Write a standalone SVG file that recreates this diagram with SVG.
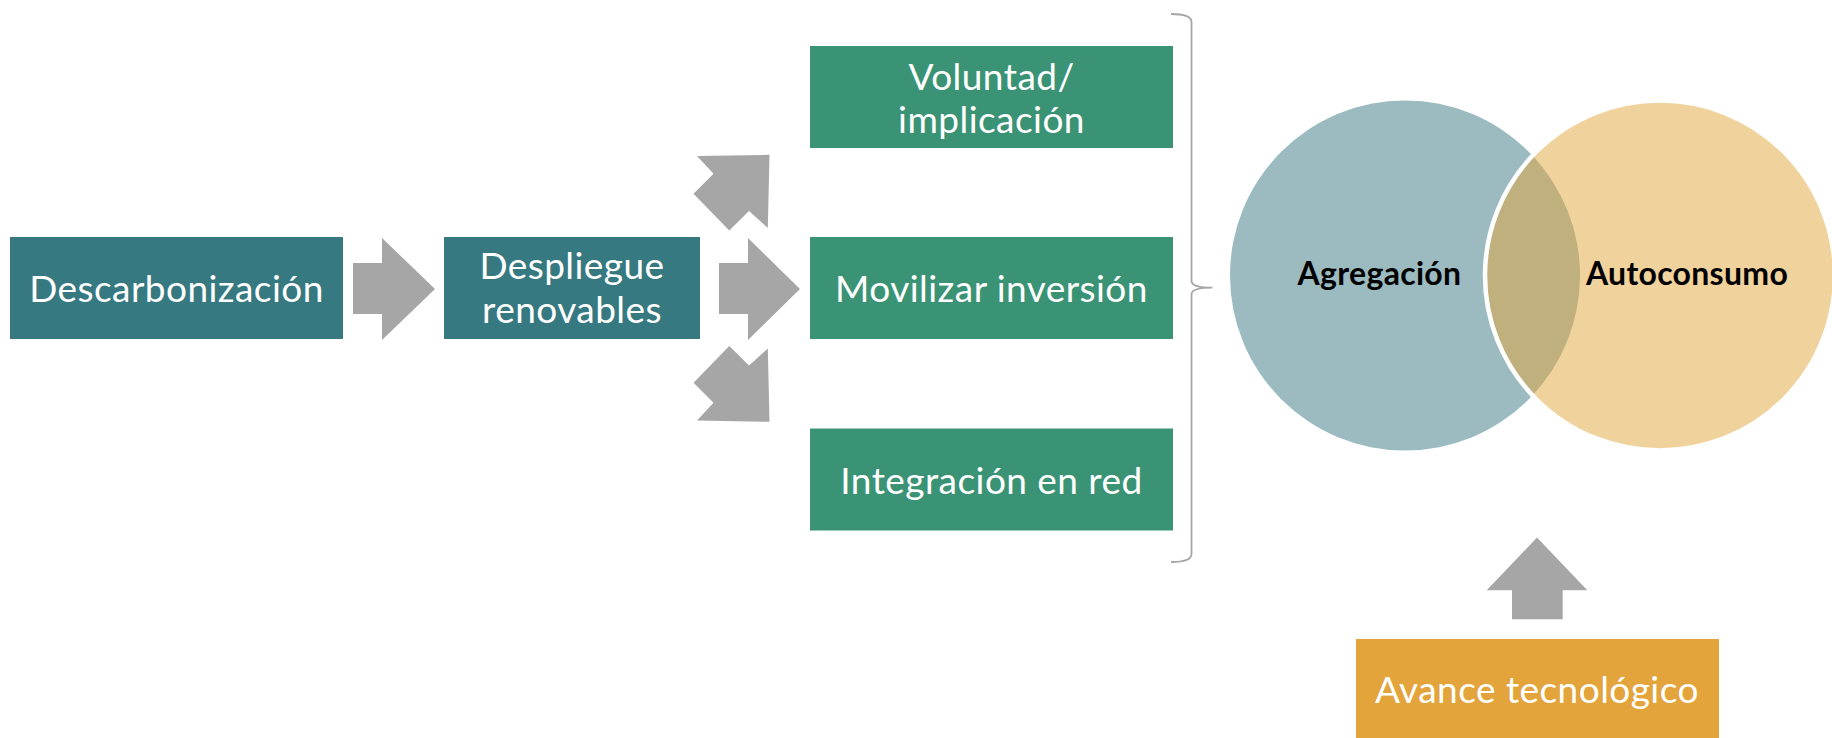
<svg xmlns="http://www.w3.org/2000/svg" width="1832" height="738" viewBox="0 0 1832 738">
  <style>
    .teal { fill: #367980; }
    .green { fill: #3a9375; }
    .gold { fill: #e2a43b; }
    .arrow { fill: #a6a6a6; }
    .lbl { font-family: Lato, "Open Sans", sans-serif; font-size: 37px; letter-spacing: 0.45px; fill: #ffffff; text-anchor: middle; }
    .venn { font-family: Lato, "Open Sans", sans-serif; font-size: 32px; letter-spacing: 0.3px; font-weight: bold; fill: #000000; text-anchor: middle; }
    .brace { fill: none; stroke: #a6a6a6; stroke-width: 1.8; }
  </style>
  <rect width="1832" height="738" fill="#ffffff"/>

  <g id="connectors">
    <polygon class="arrow" points="353,263 382,263 382,238 435,289 382,340 382,314 353,314"/>
    <polygon class="arrow" points="719,263 748,263 748,238 800,289 748,340 748,314 719,314"/>
    <polygon class="arrow" points="697,156 769.5,154.8 767.8,228 749,211 729.3,230.6 693.5,193.8 713.5,173.8"/>
    <polygon class="arrow" points="697,420.6 769.5,421.8 767.8,348.6 749,365.6 729.3,346 693.5,382.8 713.5,402.8"/>
    <polygon class="arrow" points="1537,537.5 1587.3,590.3 1562.7,590.3 1562.7,619.3 1512,619.3 1512,590.3 1486.7,590.3"/>
    <path id="brace" class="brace" d="M1171,14 Q1191.5,14 1191.5,22 L1191.5,281 Q1191.5,287.7 1212.3,287.7 Q1191.5,287.7 1191.5,294.5 L1191.5,554 Q1191.5,562 1171,562"/>
  </g>

  <g id="n-descarbonizacion">
    <rect class="teal" x="10" y="237" width="333" height="102"/>
    <text class="lbl" x="176.5" y="302">Descarbonización</text>
  </g>
  <g id="n-despliegue">
    <rect class="teal" x="444" y="237" width="256" height="102"/>
    <text class="lbl" x="572" y="279">Despliegue</text>
    <text class="lbl" x="572" y="323">renovables</text>
  </g>
  <g id="n-voluntad">
    <rect class="green" x="810" y="46" width="363" height="102"/>
    <text class="lbl" x="991.5" y="89.5">Voluntad/</text>
    <text class="lbl" x="991.5" y="133">implicación</text>
  </g>
  <g id="n-movilizar">
    <rect class="green" x="810" y="237" width="363" height="102"/>
    <text class="lbl" x="991.5" y="302">Movilizar inversión</text>
  </g>
  <g id="n-integracion">
    <rect class="green" x="810" y="428.5" width="363" height="102"/>
    <text class="lbl" x="991.5" y="494">Integración en red</text>
  </g>

  <g id="n-venn">
    <circle cx="1405" cy="275.5" r="175" fill="#9bbbc1"/>
    <circle cx="1660" cy="275.5" r="175" fill="#f0d29d"/>
    <path d="M1532.5,155.6 A175,175 0 0,1 1532.5,395.4 A175,175 0 0,1 1532.5,155.6 Z" fill="#c0b07e"/>
    <circle cx="1660" cy="275.5" r="175" fill="none" stroke="#ffffff" stroke-width="4.5"/>
    <text class="venn" x="1379.5" y="285">Agregación</text>
    <text class="venn" x="1687" y="285">Autoconsumo</text>
  </g>

  <g id="n-avance">
    <rect class="gold" x="1356" y="639" width="363" height="102"/>
    <text class="lbl" x="1537" y="703">Avance tecnológico</text>
  </g>
</svg>
